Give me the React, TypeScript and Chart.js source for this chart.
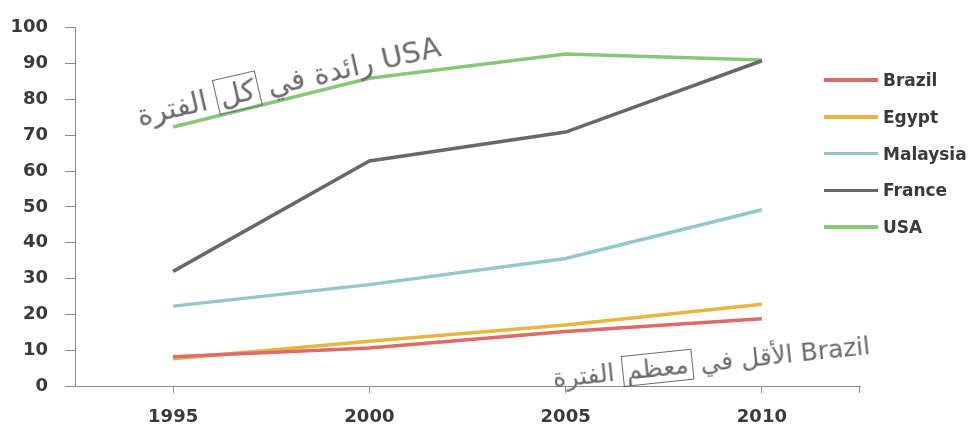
import React, { useEffect, useRef } from 'react';
import { Chart, registerables } from 'chart.js';
Chart.register(...registerables);

const years = ['1995', '2000', '2005', '2010'];
const brazil = [8.2, 10.6, 15.2, 18.8];
const egypt = [7.6, 12.5, 17, 22.8];
const malaysia = [22.3, 28.3, 35.6, 49.2];
const france = [32, 62.8, 70.9, 90.8];
const usa = [72.3, 85.9, 92.7, 91];

const seriesNames = ['Brazil', 'Egypt', 'Malaysia', 'France', 'USA'];
const seriesValues = [brazil, egypt, malaysia, france, usa];
const seriesColors = ['#e06a68', '#e8b63e', '#92c8c8', '#686868', '#86c878'];

const yTicks = [0, 10, 20, 30, 40, 50, 60, 70, 80, 90, 100];

const axisColor = '#8a8a8a';
const textColor = '#3a3a3a';
const font = '"DejaVu Sans", Verdana, sans-serif';
const noteColor = '#6a6a6a';

const endTick = {
  id: 'endTick',
  afterDraw(chart: any) {
    const { ctx, chartArea } = chart;
    ctx.save();
    ctx.strokeStyle = axisColor;
    ctx.lineWidth = 1;
    ctx.beginPath();
    ctx.moveTo(chartArea.right - 0.5, chartArea.bottom);
    ctx.lineTo(chartArea.right - 0.5, chartArea.bottom + 7);
    ctx.stroke();
    ctx.restore();
  },
};

export default function App() {
  const ref = useRef<HTMLCanvasElement>(null);
  useEffect(() => {
    const chart = new Chart(ref.current!, {
      type: 'line',
      data: {
        labels: years,
        datasets: seriesNames.map((n, i) => ({
          label: n,
          data: seriesValues[i],
          borderColor: seriesColors[i],
          backgroundColor: seriesColors[i],
          borderWidth: 3.5,
          pointRadius: 0,
          tension: 0,
          fill: false,
        })),
      },
      plugins: [endTick],
      options: {
        animation: false,
        responsive: false,
        maintainAspectRatio: false,
        layout: { padding: { top: 18, right: 113, left: 0, bottom: 0 } },
        plugins: { legend: { display: false }, tooltip: { enabled: false } },
        scales: {
          x: {
            type: 'category',
            offset: true,
            grid: { drawOnChartArea: false, drawTicks: true, tickLength: 7, color: axisColor, offset: false },
            border: { display: true, color: axisColor, width: 1 },
            ticks: { color: textColor, font: { family: font, size: 18, weight: 'bold' }, padding: 14, maxRotation: 0 },
            afterFit: (s: any) => { s.height = 42; },
          },
          y: {
            min: 0,
            max: 100,
            afterBuildTicks: (s: any) => { s.ticks = yTicks.map((v) => ({ value: v })); },
            grid: { drawOnChartArea: false, drawTicks: true, tickLength: 10, color: axisColor },
            border: { display: true, color: axisColor, width: 1 },
            ticks: { color: textColor, font: { family: font, size: 18, weight: 'bold' }, padding: 17 },
            afterFit: (s: any) => { s.width = 75; },
          },
        },
      },
    });
    return () => chart.destroy();
  }, []);

  const boxed = { border: `1.5px solid ${noteColor}`, padding: '0 3px' };

  return (
    <div style={{ position: 'fixed', left: 0, top: 0, width: 973, height: 428, background: '#fff', overflow: 'hidden' }}>
      <canvas ref={ref} width={973} height={428} style={{ position: 'absolute', left: 0, top: 0 }} />
      <div style={{ position: 'absolute', left: 824, top: 70, fontFamily: font, fontWeight: 'bold', fontSize: 17, color: textColor }}>
        {seriesNames.map((n, i) => (
          <div key={n} style={{ display: 'flex', alignItems: 'center', height: 20, marginBottom: 16.75 }}>
            <div style={{ width: 54, height: 3.5, background: seriesColors[i], marginRight: 5 }} />
            <span>{n}</span>
          </div>
        ))}
      </div>
      <div dir="rtl" style={{ position: 'absolute', left: 40, top: 28, width: 400, textAlign: 'right', fontFamily: font, fontSize: 29, lineHeight: '36px', color: noteColor, transform: 'rotate(-13deg)', transformOrigin: 'right center', whiteSpace: 'nowrap' }}>
        USA رائدة في <span style={boxed}>كل</span> الفترة
      </div>
      <div dir="rtl" style={{ position: 'absolute', left: 480, top: 330, width: 390, textAlign: 'right', fontFamily: font, fontSize: 25, lineHeight: '32px', color: noteColor, transform: 'rotate(-6deg)', transformOrigin: 'right center', whiteSpace: 'nowrap' }}>
        Brazil الأقل في <span style={boxed}>معظم</span> الفترة
      </div>
    </div>
  );
}
